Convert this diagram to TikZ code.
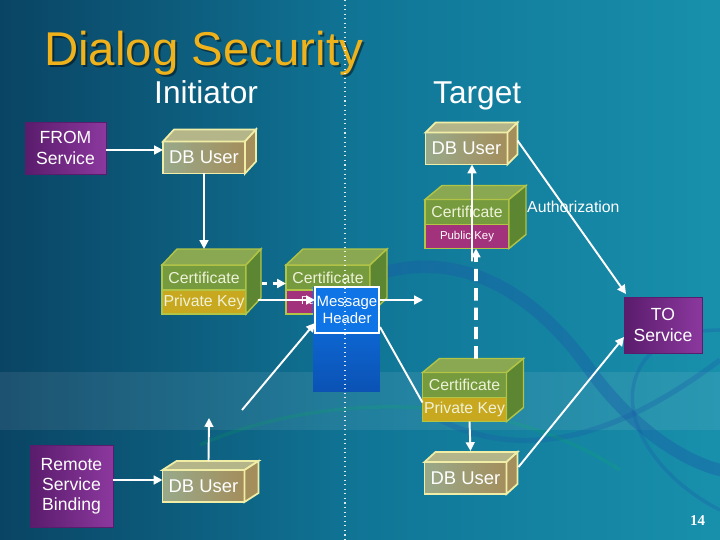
\documentclass[tikz,border=0pt]{standalone}
\usepackage{fontspec}
\setmainfont{Liberation Sans}
\newfontfamily\pagenumfont{Liberation Serif}
\usepackage{tikz}
\usetikzlibrary{arrows.meta, calc, positioning}
\definecolor{SlideDark} {HTML}{0A4464}
\definecolor{SlideMid}  {HTML}{107596}
\definecolor{SlideLight}{HTML}{1890AC}
\definecolor{Swirl}     {HTML}{1A5CA8}
\definecolor{Gold}      {HTML}{F0B21A}
\definecolor{Plum}      {HTML}{8C389E}
\definecolor{PlumDark}  {HTML}{5A1C6C}
\definecolor{Khaki}     {HTML}{98A98A}
\definecolor{KhakiDark} {HTML}{A48E5C}
\definecolor{KhakiTop}  {HTML}{B4B68A}
\definecolor{KhakiEdge} {HTML}{F0EEA6}
\definecolor{Olive}     {HTML}{769A3E}
\definecolor{OliveDark} {HTML}{5C8632}
\definecolor{OliveTop}  {HTML}{8AA852}
\definecolor{OliveEdge} {HTML}{B2C446}
\definecolor{CertText}  {HTML}{EEF2D8}
\definecolor{Mustard}   {HTML}{C8A81E}
\definecolor{Magenta}   {HTML}{A2327C}
\definecolor{Azure}     {HTML}{0F74E6}
\definecolor{AzureDark} {HTML}{0B52B4}
\tikzset{
  flow arrow/.style={-{Triangle[length=5pt,width=5pt]}, line width=1.1pt, white},
  flow line/.style={line width=1.1pt, white},
  dash arrow/.style={-{Triangle[length=5pt,width=5pt]}, line width=2.2pt, white,
                     dash pattern=on 7pt off 4pt},
}
% top and right faces of a box whose front is #1 (upper) and #2 (lower)
\newcommand{\cubefaces}[6]{%
  \filldraw[#5] (#1.north west) -- ++(#3,-#4) -- ($(#1.north east)+(#3,-#4)$)
    -- (#1.north east) -- cycle;
  \filldraw[#6] (#1.north east) -- ($(#1.north east)+(#3,-#4)$)
    -- ($(#2.south east)+(#3,-#4)$) -- (#2.south east) -- cycle;
}

\begin{document}
\begin{tikzpicture}[x=0.02cm, y=-0.02cm,
    service/.style={draw=PlumDark, left color=PlumDark, right color=Plum, text=white,
                    align=center, inner sep=0pt, outer sep=0pt,
                    font=\fontsize{10}{11.5}\selectfont},
    dbuser/.style={draw=KhakiEdge, line width=1pt, left color=Khaki, right color=KhakiDark,
                   text=white, inner sep=0pt, outer sep=0pt, minimum width=1.64cm,
                   minimum height=0.64cm, font=\fontsize{10.5}{12}\selectfont},
    certband/.style={draw=OliveEdge, line width=0.8pt, fill=Olive, text=CertText,
                     inner sep=0pt, outer sep=0pt, minimum width=1.68cm,
                     minimum height=0.5cm, font=\fontsize{9}{10}\selectfont},
    privband/.style={certband, fill=Mustard, minimum height=0.48cm},
    pubband/.style={certband, fill=Magenta, text=white, minimum height=0.48cm,
                    font=\fontsize{6.5}{7}\selectfont},
    topface/.style={fill=KhakiTop, draw=KhakiEdge, line width=1pt},
    sideface/.style={fill=KhakiDark, draw=KhakiEdge, line width=1pt},
    certtop/.style={fill=OliveTop, draw=OliveEdge, line width=0.8pt},
    certside/.style={fill=OliveDark, draw=OliveEdge, line width=0.8pt},
    heading/.style={text=white, anchor=base west, font=\fontsize{18}{20}\selectfont}]
  \useasboundingbox (0,0) rectangle (720,540);
  % Background
  \shade[left color=SlideDark, right color=SlideLight, middle color=SlideMid]
    (0,0) rectangle (720,540);
  \fill[white, opacity=0.08] (0,372) rectangle (720,430);
  \draw[Swirl, opacity=0.4, line width=7pt, line cap=round]
    (385,272) .. controls (470,250) and (540,300) .. (590,370)
    .. controls (630,425) and (680,460) .. (720,470);
  \draw[Swirl, opacity=0.3, line width=3pt]
    (440,420) .. controls (540,470) and (640,420) .. (720,360);
  \draw[Swirl, opacity=0.3, line width=2pt]
    (720,330) .. controls (640,330) and (610,390) .. (650,450)
    .. controls (670,480) and (700,500) .. (720,510);
  \draw[green!60!teal, opacity=0.12, line width=2pt]
    (200,445) .. controls (300,400) and (480,380) .. (620,470);
  % Titles
  \node[text=black, opacity=0.45, anchor=base west, font=\fontsize{27}{30}\selectfont]
    (titleshadow) at (40,68) {Dialog Security};
  \node[text=Gold, anchor=base west, font=\fontsize{27}{30}\selectfont]
    (title) at (38,66) {Dialog Security};
  \node[heading] (initiator) at (148,104) {Initiator};
  \node[heading] (target) at (427,104) {Target};
  % Nodes
  \node[service, minimum width=1.62cm, minimum height=1.04cm] (from) at (65.5,148) {FROM\\Service};
  \node[service, minimum width=1.56cm, minimum height=1.12cm] (to) at (663,325) {TO\\Service};
  \node[service, minimum width=1.66cm, minimum height=1.64cm] (rsb) at (71.5,486) {Remote\\Service\\Binding};
  \node[dbuser] (idb) at (204,157.5) {DB User};
  \node[dbuser] (tdb) at (466.5,148.5) {DB User};
  \node[dbuser] (ldb) at (465.5,478) {DB User};
  \node[dbuser] (rdb) at (203.5,486) {DB User};
  \node[certband] (icert) at (204,277.5) {Certificate};
  \node[privband, below=0pt of icert] (ikey) {Private Key};
  \node[certband] (mcert) at (328,277.5) {Certificate};
  \node[pubband, below=0pt of mcert] (mkey) {Public Key};
  \node[certband] (tcert) at (467,212) {Certificate};
  \node[pubband, below=0pt of tcert] (tkey) {Public Key};
  \node[certband] (lcert) at (464.5,385) {Certificate};
  \node[privband, below=0pt of lcert] (lkey) {Private Key};
  \cubefaces{idb}{idb}{11}{12}{topface}{sideface}
  \cubefaces{tdb}{tdb}{10}{10}{topface}{sideface}
  \cubefaces{ldb}{ldb}{11}{10}{topface}{sideface}
  \cubefaces{rdb}{rdb}{14}{9}{topface}{sideface}
  \cubefaces{icert}{ikey}{15}{16}{certtop}{certside}
  \cubefaces{mcert}{mkey}{17}{16}{certtop}{certside}
  \cubefaces{tcert}{tkey}{17}{14}{certtop}{certside}
  \cubefaces{lcert}{lkey}{17}{14}{certtop}{certside}
  \node[top color=Azure, bottom color=AzureDark, minimum width=1.34cm, minimum height=2.1cm,
        inner sep=0pt, outer sep=0pt] (mhbody) at (346.5,339.5) {};
  \node[fill=Azure, draw=white, line width=0.8pt, text=white, align=center,
        minimum width=1.28cm, minimum height=0.92cm, inner sep=0pt, outer sep=0pt,
        font=\fontsize{8.5}{9.5}\selectfont] (mh) at (347,310) {Message\\Header};
  \node[text=white, anchor=base west, font=\fontsize{9}{10}\selectfont]
    (auth) at (521,213) {Authorization};
  \node[text=white, anchor=base west, font=\pagenumfont\bfseries\fontsize{8.5}{10}\selectfont]
    (pagenum) at (684,525) {14};
  % Divider
  \draw[white, dotted, line width=0.6pt, opacity=0.85] (345,0) -- (345,540);
  % Arrows
  \coordinate (mhout) at (423,300);
  \coordinate (mhin) at (242,410);
  \coordinate (rdbup) at (209,418);
  \draw[flow arrow] (from.east |- 0,150) -- (idb.west |- 0,150);
  \draw[flow arrow] (idb.south) -- ($(icert.north)+(0,-16)$);
  \draw[flow arrow, dashed, line width=2pt] ($(icert.east)+(16,6)$) -- ($(mcert.west)+(0,6)$);
  \draw[flow arrow] ($(ikey.east)+(12,-2)$) -- ($(mh.west)+(0,-10)$);
  \draw[flow arrow] (mh.east |- mhout) -- (mhout);
  \draw[flow arrow] (mhin) -- ($(mh.south west)+(0,-10)$);
  \draw[flow line] ($(mh.south east)+(1,-6)$) -- ($(lkey.north west)+(0,5)$);
  \draw[flow arrow] ($(tdb.east)+(10,-8)$) -- ($(to.north west)+(2,-3)$);
  \draw[flow arrow] ($(ldb.east)+(12,-11)$) -- ($(to.west)+(0,12)$);
  \draw[flow arrow] ($(tkey.south)+(5,13)$) -- ($(tdb.south)+(5.5,0)$);
  \draw[dash arrow] ($(lcert.north)+(11.5,-14)$) -- ($(tkey.south)+(9,0)$);
  \draw[flow arrow] ($(lkey.south)+(5,0)$) -- ($(ldb.north)+(5,-11)$);
  \draw[flow arrow] ($(rsb.east)+(0,-6)$) -- ($(rdb.west)+(0,-6)$);
  \draw[flow arrow] ($(rdb.north)+(5,-9)$) -- (rdbup);
\end{tikzpicture}
\end{document}
